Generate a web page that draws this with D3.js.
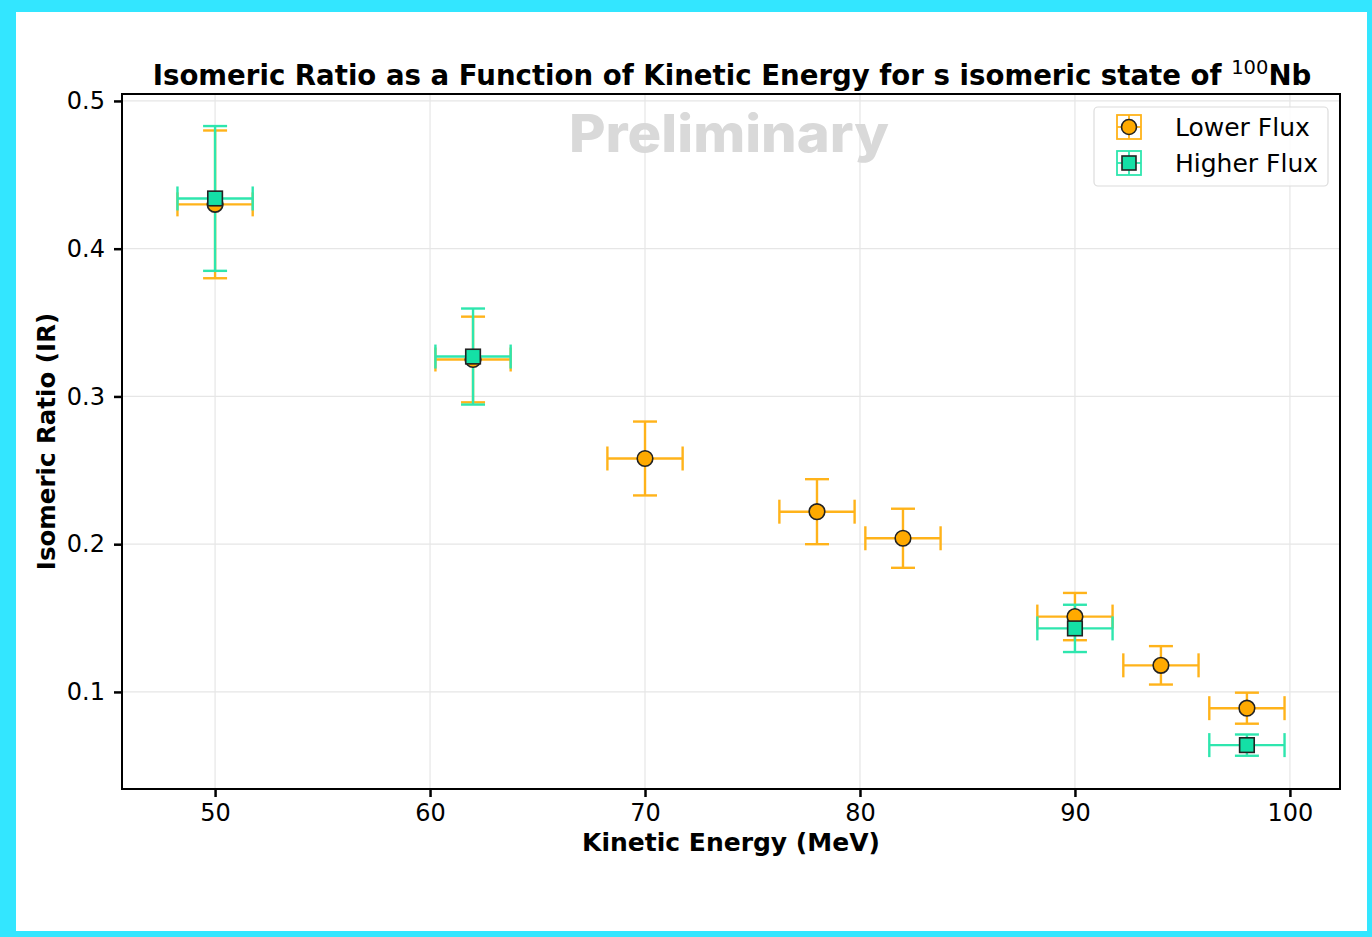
<!DOCTYPE html>
<html>
<head>
<meta charset="utf-8">
<script src="https://cdn.jsdelivr.net/npm/d3@7"></script>
<style>
  html, body { margin: 0; padding: 0; background: #fff; }
  svg { display: block; }
  text { font-family: "DejaVu Sans", sans-serif; }
</style>
</head>
<body>
<div id="chart"></div>
<script>
// Data
const energyLow = [50, 62, 70, 78, 82, 90, 94, 98];
const irLow = [0.430, 0.325, 0.258, 0.222, 0.204, 0.151, 0.118, 0.089];
const irLowErr = [0.050, 0.029, 0.025, 0.022, 0.020, 0.016, 0.013, 0.0105];

const energyHigh = [50, 62, 90, 98];
const irHigh = [0.434, 0.327, 0.143, 0.064];
const irHighErr = [0.049, 0.0325, 0.016, 0.0072];

const energyErr = 1.75;
const xTicks = [50, 60, 70, 80, 90, 100];
const yTicks = [0.1, 0.2, 0.3, 0.4, 0.5];

const W = 1372, H = 937;
const plot = { left: 122, top: 94, right: 1340, bottom: 789 };

const orange = "#FFAA00", orangeBar = "#FFB31A";
const teal = "#14E0A6", tealBar = "#2EE6AE";

const svg = d3.select("#chart").append("svg")
    .attr("width", W).attr("height", H);

// Page frame
svg.append("rect").attr("width", W).attr("height", H).attr("fill", "#33E6FF");
svg.append("rect").attr("x", 16).attr("y", 12).attr("width", W - 16 - 5).attr("height", H - 12 - 6)
    .attr("fill", "#fff");

const x = d3.scaleLinear().domain([45.67, 102.33]).range([plot.left, plot.right]);
const y = d3.scaleLinear().domain([0.0343, 0.5047]).range([plot.bottom, plot.top]);

// Grid
const grid = svg.append("g").attr("stroke", "#e6e6e6").attr("stroke-width", 1.2);
grid.selectAll(".gx").data(xTicks).enter().append("line")
    .attr("x1", d => x(d)).attr("x2", d => x(d))
    .attr("y1", plot.top).attr("y2", plot.bottom);
grid.selectAll(".gy").data(yTicks).enter().append("line")
    .attr("y1", d => y(d)).attr("y2", d => y(d))
    .attr("x1", plot.left).attr("x2", plot.right);

// Watermark
svg.append("text")
    .attr("x", 729).attr("y", 152)
    .attr("text-anchor", "middle")
    .attr("font-weight", 800)
    .attr("font-size", 52)
    .attr("textLength", 320)
    .attr("lengthAdjust", "spacingAndGlyphs")
    .attr("fill", "#d9d9d9")
    .style("font-family", "Inter, sans-serif")
    .text("Preliminary");

// Axes
const xAxis = d3.axisBottom(x).tickValues(xTicks).tickSize(8).tickPadding(7).tickFormat(d3.format("d"));
const yAxis = d3.axisLeft(y).tickValues(yTicks).tickSize(8).tickPadding(9).tickFormat(d3.format(".1f"));

const gx = svg.append("g").attr("transform", `translate(0,${plot.bottom})`).call(xAxis);
const gy = svg.append("g").attr("transform", `translate(${plot.left},0)`).call(yAxis);
[gx, gy].forEach(g => {
    g.select(".domain").remove();
    g.selectAll(".tick line").attr("stroke", "#000").attr("stroke-width", 2.5);
    g.selectAll(".tick text").attr("font-size", 24).attr("fill", "#000")
        .style("font-family", "'DejaVu Sans', sans-serif");
});

// Error bars and markers
function errorBars(xs, ys, yerr, color) {
    const g = svg.append("g").attr("stroke", color).attr("stroke-width", 2.4).attr("fill", "none");
    const cap = 12;
    xs.forEach((xv, i) => {
        const cx = x(xv), cy = y(ys[i]);
        const x0 = x(xv - energyErr), x1 = x(xv + energyErr);
        const y0 = y(ys[i] - yerr[i]), y1 = y(ys[i] + yerr[i]);
        g.append("line").attr("x1", x0).attr("x2", x1).attr("y1", cy).attr("y2", cy);
        g.append("line").attr("x1", cx).attr("x2", cx).attr("y1", y0).attr("y2", y1);
        g.append("line").attr("x1", x0).attr("x2", x0).attr("y1", cy - cap).attr("y2", cy + cap);
        g.append("line").attr("x1", x1).attr("x2", x1).attr("y1", cy - cap).attr("y2", cy + cap);
        g.append("line").attr("x1", cx - cap).attr("x2", cx + cap).attr("y1", y0).attr("y2", y0);
        g.append("line").attr("x1", cx - cap).attr("x2", cx + cap).attr("y1", y1).attr("y2", y1);
    });
}
errorBars(energyLow, irLow, irLowErr, orangeBar);
errorBars(energyHigh, irHigh, irHighErr, tealBar);

svg.append("g").selectAll("circle").data(energyLow).enter().append("circle")
    .attr("cx", d => x(d)).attr("cy", (d, i) => y(irLow[i])).attr("r", 7.8)
    .attr("fill", orange).attr("stroke", "#222").attr("stroke-width", 1.6);
svg.append("g").selectAll("rect").data(energyHigh).enter().append("rect")
    .attr("x", d => x(d) - 7.3).attr("y", (d, i) => y(irHigh[i]) - 7.3)
    .attr("width", 14.6).attr("height", 14.6)
    .attr("fill", teal).attr("stroke", "#222").attr("stroke-width", 1.6);

// Frame
svg.append("rect")
    .attr("x", plot.left).attr("y", plot.top)
    .attr("width", plot.right - plot.left).attr("height", plot.bottom - plot.top)
    .attr("fill", "none").attr("stroke", "#000").attr("stroke-width", 2);

// Title and axis labels
const title = svg.append("text")
    .attr("x", (plot.left + plot.right) / 2 + 1).attr("y", 85)
    .attr("text-anchor", "middle").attr("font-weight", "bold").attr("font-size", 27.6);
title.append("tspan").text("Isomeric Ratio as a Function of Kinetic Energy for s isomeric state of ");
title.append("tspan").attr("font-size", 19.5).attr("font-weight", "normal").attr("dy", -11).text("100");
title.append("tspan").attr("dy", 11).text("Nb");

svg.append("text")
    .attr("x", (plot.left + plot.right) / 2).attr("y", 851)
    .attr("text-anchor", "middle").attr("font-weight", "bold").attr("font-size", 25)
    .text("Kinetic Energy (MeV)");

svg.append("text")
    .attr("transform", `translate(55,${(plot.top + plot.bottom) / 2}) rotate(-90)`)
    .attr("text-anchor", "middle").attr("font-weight", "bold").attr("font-size", 24.5)
    .text("Isomeric Ratio (IR)");

// Legend
const legend = svg.append("g");
legend.append("rect")
    .attr("x", 1094).attr("y", 107).attr("width", 234).attr("height", 79)
    .attr("rx", 4).attr("fill", "#fff").attr("fill-opacity", 0.85)
    .attr("stroke", "#dcdcdc").attr("stroke-width", 1.2);

const legendItems = [
    { label: "Lower Flux", bar: orangeBar, fill: orange, shape: "circle" },
    { label: "Higher Flux", bar: tealBar, fill: teal, shape: "square" }
];
legendItems.forEach((it, i) => {
    const cx = 1129, cy = 127 + i * 36, h = 12;
    const g = legend.append("g").attr("stroke", it.bar).attr("stroke-width", 1.8);
    g.append("line").attr("x1", cx - h).attr("x2", cx + h).attr("y1", cy).attr("y2", cy);
    g.append("line").attr("x1", cx).attr("x2", cx).attr("y1", cy - h).attr("y2", cy + h);
    g.append("rect").attr("x", cx - h).attr("y", cy - h).attr("width", 2 * h).attr("height", 2 * h)
        .attr("fill", "none");
    if (it.shape === "circle") {
        legend.append("circle").attr("cx", cx).attr("cy", cy).attr("r", 7.5)
            .attr("fill", it.fill).attr("stroke", "#222").attr("stroke-width", 1.6);
    } else {
        legend.append("rect").attr("x", cx - 7).attr("y", cy - 7).attr("width", 14).attr("height", 14)
            .attr("fill", it.fill).attr("stroke", "#222").attr("stroke-width", 1.6);
    }
    legend.append("text").attr("x", 1175).attr("y", cy + 9)
        .attr("font-size", 25).text(it.label);
});
</script>
</body>
</html>
